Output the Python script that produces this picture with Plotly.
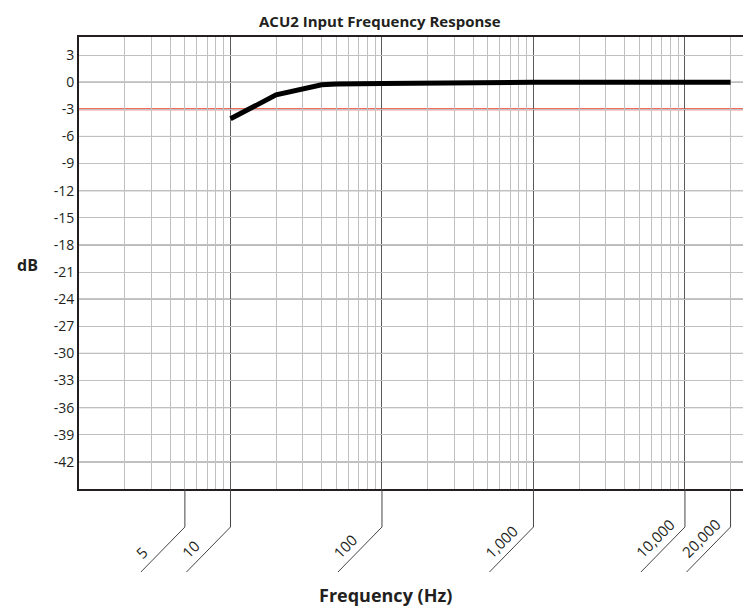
import numpy as np
import plotly.graph_objects as go

# ---- data ----
freq_hz = [10, 20, 40, 50, 100, 200, 500, 1000, 20000]
level_db = [-4.05, -1.4, -0.28, -0.2, -0.15, -0.1, -0.05, 0.0, 0.0]

ref_level_db = -3
y_ticks = list(range(3, -43, -3))
y_major = [v for v in y_ticks if v % 6 == 0]
x_decades = [1, 10, 100, 1000, 10000]
x_minor = [m * d for d in [1, 10, 100, 1000] for m in range(2, 10)] + [20000]
x_label_vals = [5, 10, 100, 1000, 10000, 20000]
x_label_text = ["5", "10", "100", "1,000", "10,000", "20,000"]

FONT = "Open Sans"
INK = "#231f20"
DARK_GRID = "#5a5a5a"
LIGHT_GRID = "#c0c0c0"

# page body adds an 8px margin; figure is sized to sit inside the window
FIG_W, FIG_H = 743, 600
M_L, M_R, M_T, M_B = 71, 0, 29, 119
X_RANGE = [0, 4.436]
plot_w = FIG_W - M_L - M_R
decade_px = plot_w / (X_RANGE[1] - X_RANGE[0])

fig = go.Figure()
fig.add_trace(go.Scatter(
    x=freq_hz, y=level_db, mode="lines",
    line=dict(color="black", width=5),
    hoverinfo="skip", showlegend=False,
))

shapes = []
for v in y_major:
    shapes.append(dict(type="line", xref="paper", x0=0, x1=1, yref="y", y0=v, y1=v,
                       line=dict(color=DARK_GRID, width=1), layer="between"))
shapes.append(dict(type="line", xref="paper", x0=0, x1=1, yref="y",
                   y0=ref_level_db, y1=ref_level_db,
                   line=dict(color="#f03a26", width=2), layer="between"))
# leader lines for x labels (vertical drop, then 45 degree diagonal)
drop_px, diag_px = 38, 44
for v in x_label_vals:
    shapes.append(dict(type="line", xref="x", x0=v, x1=v,
                       yref="paper", ysizemode="pixel", yanchor=0, y0=0, y1=-drop_px,
                       line=dict(color="#444", width=1)))
    shapes.append(dict(type="line", xref="x", x0=v, x1=v / 10 ** (diag_px / decade_px),
                       yref="paper", ysizemode="pixel", yanchor=0,
                       y0=-drop_px, y1=-drop_px - diag_px - 1,
                       line=dict(color="#444", width=1)))

annotations = []
for v, t in zip(x_label_vals, x_label_text):
    annotations.append(dict(x=np.log10(v), xref="x", y=0, yref="paper", text=t,
                            showarrow=False, textangle=-45, xanchor="left", yanchor="bottom",
                            xshift=-56, yshift=-76,
                            font=dict(family=FONT, size=15, color=INK)))
annotations.append(dict(x=0, xref="paper", xshift=-52, y=0.495, yref="paper", text="<b>dB</b>",
                        showarrow=False, xanchor="center", yanchor="middle",
                        font=dict(family=FONT, size=16, color=INK)))
annotations.append(dict(x=(377 - M_L) / plot_w, xref="paper", y=0, yref="paper", yshift=-106,
                        text="<b>Frequency (Hz)</b>", showarrow=False,
                        xanchor="center", yanchor="middle",
                        font=dict(family=FONT, size=18, color=INK)))
# chart title
annotations.append(dict(x=(372 - M_L) / plot_w, xref="paper", y=1, yref="paper", yshift=28,
                        text="<b>ACU2 Input Frequency Response</b>", showarrow=False,
                        xanchor="center", yanchor="top",
                        font=dict(family=FONT, size=15, color=INK)))

fig.update_layout(
    width=FIG_W, height=FIG_H,
    margin=dict(l=M_L, r=M_R, t=M_T, b=M_B),
    paper_bgcolor="white", plot_bgcolor="white",
    shapes=shapes, annotations=annotations,
    showlegend=False,
)
fig.update_xaxes(
    type="log", range=X_RANGE, tickvals=x_decades, showticklabels=False,
    showgrid=True, gridcolor=DARK_GRID, gridwidth=1,
    minor=dict(tickvals=x_minor, showgrid=True, gridcolor=LIGHT_GRID, gridwidth=1),
    showline=True, linecolor=INK, linewidth=2, mirror=True,
    zeroline=False, ticks="",
)
fig.update_yaxes(
    range=[-45, 5], tickvals=y_ticks, ticktext=[str(v) for v in y_ticks],
    showgrid=True, gridcolor=LIGHT_GRID, gridwidth=1,
    showline=True, linecolor=INK, linewidth=2, mirror=False,
    zeroline=False, ticks="",
    tickfont=dict(family=FONT, size=14, color=INK),
)

fig.write_html("out.html")
